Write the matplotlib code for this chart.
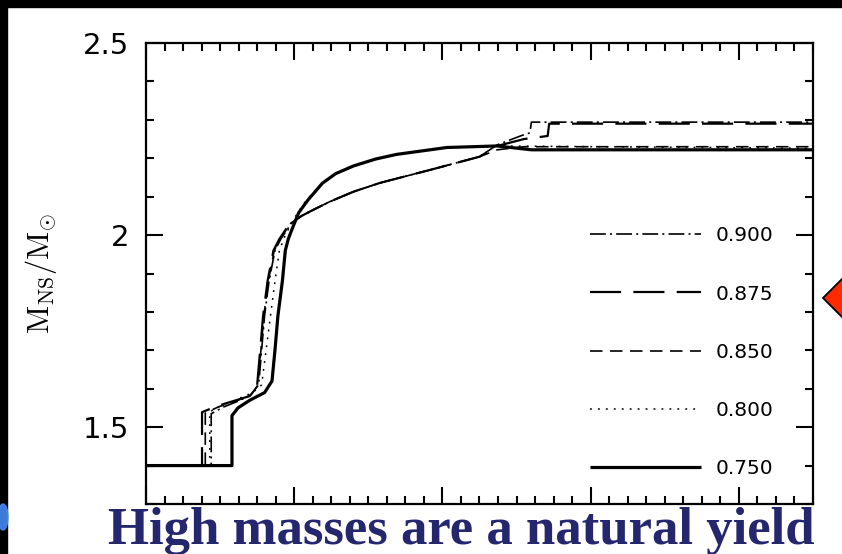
import matplotlib
matplotlib.use('Agg')
import matplotlib.pyplot as plt
from matplotlib.patches import Rectangle, Polygon, Ellipse
from matplotlib.ticker import MultipleLocator, FixedLocator, FuncFormatter

plt.rcParams['mathtext.fontset'] = 'cm'

# neutron star mass curves for different parameter values
labels = ['0.900', '0.875', '0.850', '0.800', '0.750']

x_900 = [0.00, 0.44, 0.44, 0.52, 0.61, 0.70, 0.76, 0.78, 0.80, 0.83, 0.87, 0.91, 0.98, 1.05, 1.13, 1.24, 1.40, 1.58, 1.92, 2.25, 2.37, 2.54, 2.59, 2.60, 4.50]
y_900 = [1.40, 1.40, 1.535, 1.552, 1.566, 1.582, 1.61, 1.70, 1.79, 1.88, 1.96, 1.99, 2.03, 2.050, 2.066, 2.087, 2.113, 2.136, 2.170, 2.204, 2.235, 2.260, 2.266, 2.294, 2.294]

x_875 = [0.00, 0.378, 0.378, 0.48, 0.59, 0.70, 0.75, 0.77, 0.79, 0.82, 0.86, 0.90, 0.97, 1.05, 1.13, 1.24, 1.40, 1.58, 1.92, 2.25, 2.37, 2.55, 2.71, 2.72, 4.50]
y_875 = [1.40, 1.40, 1.539, 1.555, 1.568, 1.581, 1.61, 1.70, 1.79, 1.88, 1.96, 1.99, 2.03, 2.050, 2.066, 2.087, 2.113, 2.136, 2.170, 2.204, 2.232, 2.250, 2.258, 2.290, 2.290]

x_850 = [0.00, 0.40, 0.40, 0.49, 0.60, 0.71, 0.755, 0.775, 0.795, 0.825, 0.865, 0.905, 0.975, 1.05, 1.13, 1.24, 1.40, 1.58, 1.92, 2.25, 2.37, 2.55, 4.50]
y_850 = [1.40, 1.40, 1.537, 1.553, 1.567, 1.584, 1.61, 1.70, 1.79, 1.88, 1.96, 1.99, 2.03, 2.050, 2.066, 2.087, 2.113, 2.136, 2.170, 2.204, 2.222, 2.230, 2.230]

x_800 = [0.00, 0.43, 0.43, 0.50, 0.60, 0.72, 0.78, 0.81, 0.84, 0.87, 0.90, 0.94, 0.98, 1.03, 1.08, 1.19, 1.28, 1.40, 1.55, 1.69, 2.03, 2.37, 4.50]
y_800 = [1.40, 1.40, 1.54, 1.555, 1.57, 1.59, 1.61, 1.70, 1.79, 1.88, 1.96, 2.00, 2.03, 2.062, 2.09, 2.135, 2.160, 2.18, 2.198, 2.21, 2.228, 2.232, 2.226]

x_750 = [0.00, 0.58, 0.58, 0.62, 0.70, 0.80, 0.85, 0.87, 0.89, 0.92, 0.94, 0.96, 0.99, 1.03, 1.09, 1.19, 1.28, 1.40, 1.55, 1.69, 2.03, 2.37, 2.60, 4.50]
y_750 = [1.40, 1.40, 1.53, 1.55, 1.57, 1.59, 1.62, 1.70, 1.79, 1.88, 1.96, 1.99, 2.02, 2.058, 2.09, 2.135, 2.160, 2.18, 2.198, 2.21, 2.228, 2.232, 2.222, 2.222]

xs = [x_900, x_875, x_850, x_800, x_750]
ys = [y_900, y_875, y_850, y_800, y_750]

# line styles: dash-dot, long dash, short dash, dotted, solid
styles = [(0, (9.5, 2.5, 1.2, 2.5)), (0, (14.0, 5.5)), (0, (7.5, 4.5)), (0, (1.2, 4.0)), '-']
widths = [1.2, 1.6, 1.2, 1.1, 2.3]

fig = plt.figure(figsize=(8.42, 5.54), dpi=100)
fig.patch.set_facecolor('white')
ax = fig.add_axes([146 / 842, 50 / 554, 667 / 842, 461 / 554])

for i in range(len(labels)):
    ax.plot(xs[i], ys[i], color='black', ls=styles[i], lw=widths[i], label=labels[i],
            solid_capstyle='butt', dash_capstyle='butt')

ax.set_xlim(0, 4.5)
ax.set_ylim(1.3, 2.5)

ax.xaxis.set_major_locator(MultipleLocator(1))
ax.xaxis.set_minor_locator(MultipleLocator(0.125))
ax.yaxis.set_major_locator(FixedLocator([1.5, 2.0, 2.5]))
ax.yaxis.set_minor_locator(MultipleLocator(0.1))
ax.yaxis.set_major_formatter(FuncFormatter(lambda v, p: f'{v:g}'))

ax.tick_params(which='both', direction='in', top=True, right=True, width=1.5, color='black')
ax.tick_params(which='major', length=12)
ax.tick_params(which='minor', length=6)
ax.tick_params(axis='x', labelbottom=False)
ax.tick_params(axis='y', labelsize=21, pad=12)
for lab in ax.get_yticklabels():
    lab.set_family('DejaVu Sans')
for sp in ax.spines.values():
    sp.set_linewidth(1.6)

ax.set_ylabel(r'$\mathrm{M_{NS}/M_{\odot}}$', fontsize=22, labelpad=17)

leg = ax.legend(loc='upper left', bbox_to_anchor=(0.666, 0.602), frameon=False,
                fontsize=14.5, handlelength=5.5, handletextpad=0.75,
                labelspacing=1.94, borderpad=0, borderaxespad=0)

# slide decorations around the chart
fig.patches.append(Rectangle((0, 1 - 7 / 554), 1, 7 / 554, transform=fig.transFigure,
                             color='black', zorder=5))
fig.patches.append(Rectangle((0, 0), 7 / 842, 1, transform=fig.transFigure,
                             color='black', zorder=5))
fig.patches.append(Ellipse((3 / 842, 1 - 517 / 554), 10 / 842, 26 / 554,
                           transform=fig.transFigure, color='#4a90ff', alpha=0.85, zorder=6))
diamond = [(823 / 842, 1 - 298 / 554), (863 / 842, 1 - 258 / 554),
           (903 / 842, 1 - 298 / 554), (863 / 842, 1 - 338 / 554)]
fig.patches.append(Polygon(diamond, closed=True, transform=fig.transFigure,
                           facecolor='#ff2a00', edgecolor='black', lw=1.3, zorder=5))

fig.text(108 / 842, 1 - 544 / 554, 'High masses are a natural yield', ha='left', va='baseline',
         fontsize=38, fontweight='bold', family='Liberation Serif', color='#25276e')

fig.savefig('out.png', dpi=100, facecolor='white')
